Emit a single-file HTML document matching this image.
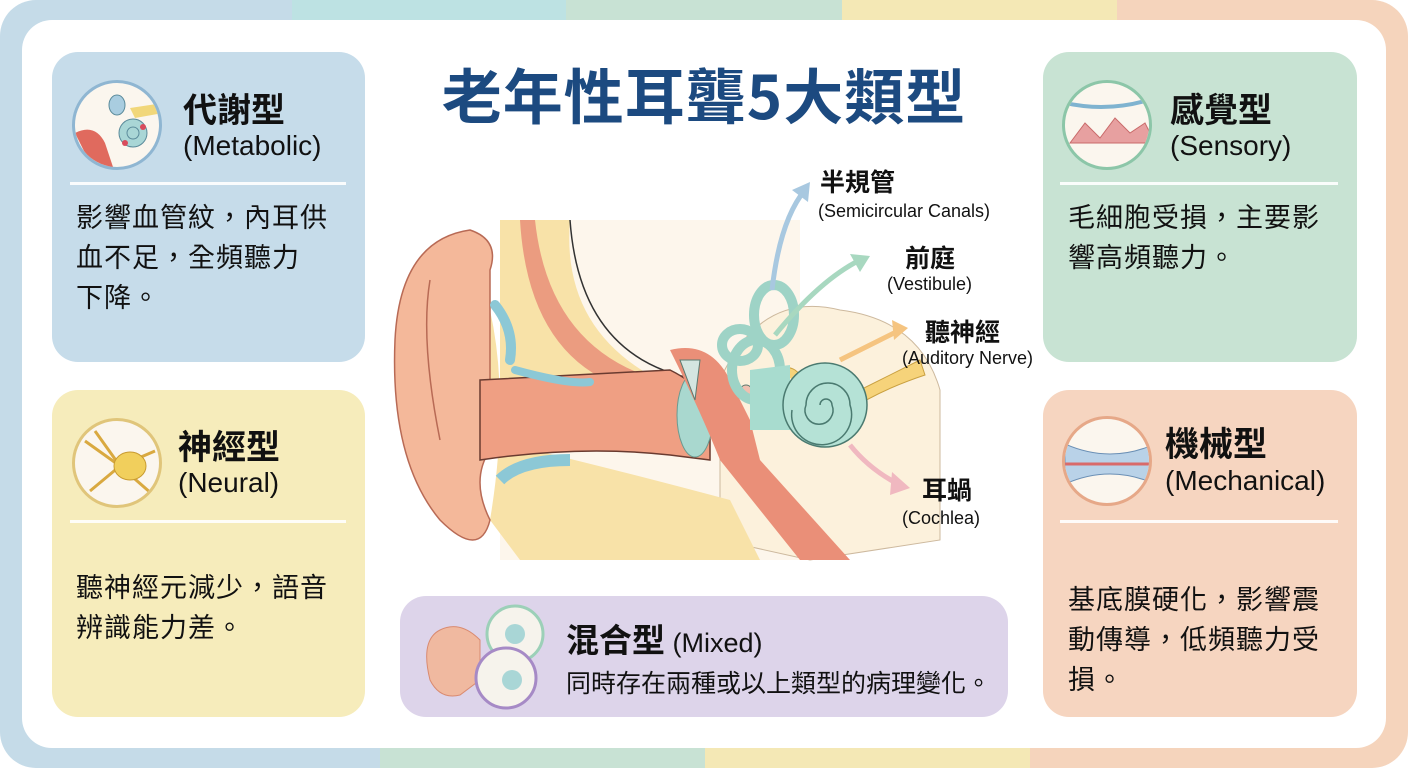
<!DOCTYPE html>
<html><head><meta charset="utf-8"><style>
*{margin:0;padding:0;box-sizing:border-box}
body{width:1408px;height:768px;overflow:hidden;position:relative;background:#fff;font-family:"Liberation Sans","Noto Sans CJK TC",sans-serif;color:#111}
.a{position:absolute}
.card{position:absolute;border-radius:26px}
.ic{position:absolute;width:90px;height:90px;border-radius:50%;background:#fbf6ee;border:3px solid #d9c9b5;overflow:hidden}
.t{position:absolute;font-weight:bold;font-size:34px;font-family:"Noto Sans CJK TC",sans-serif;white-space:nowrap;line-height:44px}
.s{position:absolute;font-size:28px;white-space:nowrap}
.hr{position:absolute;height:3px;background:#fff;opacity:.9}
.b{position:absolute;font-size:27px;line-height:40px;font-family:"Noto Sans CJK TC",sans-serif;letter-spacing:1px;white-space:nowrap}
.lb{position:absolute;font-weight:bold;font-size:25px;font-family:"Noto Sans CJK TC",sans-serif;white-space:nowrap}
.ls{position:absolute;font-size:18px;white-space:nowrap}
</style></head><body>
<div class="a" style="left:0;top:0;width:292px;height:768px;background:#c5dbe8"></div>
<div class="a" style="left:292px;top:0;width:274px;height:40px;background:#bde2e3"></div>
<div class="a" style="left:566px;top:0;width:276px;height:40px;background:#c8e2d4"></div>
<div class="a" style="left:842px;top:0;width:275px;height:40px;background:#f4e8b5"></div>
<div class="a" style="left:1117px;top:0;width:291px;height:768px;background:#f5d4bc"></div>
<div class="a" style="left:292px;top:728px;width:88px;height:40px;background:#c5dbe8"></div>
<div class="a" style="left:380px;top:728px;width:325px;height:40px;background:#c8e2d4"></div>
<div class="a" style="left:705px;top:728px;width:325px;height:40px;background:#f4e8b5"></div>
<div class="a" style="left:1030px;top:728px;width:100px;height:40px;background:#f5d4bc"></div>
<div class="a" style="left:0;top:0;width:1408px;height:768px;border-radius:36px;box-shadow:0 0 0 40px #fff;"></div>
<div class="a" style="left:22px;top:20px;width:1364px;height:728px;background:#fff;border-radius:30px"></div>

<div class="a" style="left:380px;top:56px;width:648px;text-align:center;font-size:60px;font-weight:bold;color:#1c4a80;font-family:'Noto Sans CJK TC',sans-serif;letter-spacing:1px;line-height:76px">老年性耳聾5大類型</div>

<!-- left top -->
<div class="card" style="left:52px;top:52px;width:313px;height:310px;background:#c6dcea"></div>
<div class="ic" style="left:72px;top:80px;border-color:#8fb6d2"><svg width="90" height="90"><path d="M0 50 Q20 40 30 60 L40 90 L20 90 Z" fill="#e06a5e"/><circle cx="58" cy="50" r="14" fill="#a9d6d6" stroke="#5a8a9a"/><circle cx="58" cy="50" r="6" fill="none" stroke="#5a8a9a"/><ellipse cx="42" cy="22" rx="8" ry="10" fill="#a9cde0" stroke="#5a8a9a"/><circle cx="50" cy="60" r="3" fill="#d94c5c"/><circle cx="68" cy="44" r="3" fill="#d94c5c"/><path d="M55 25 L88 20 L88 30 L60 35Z" fill="#f1d77a"/></svg></div>
<div class="t" style="left:183px;top:86px">代謝型</div>
<div class="s" style="left:183px;top:130px">(Metabolic)</div>
<div class="hr" style="left:70px;top:182px;width:276px"></div>
<div class="b" style="left:76px;top:196px">影響血管紋，內耳供<br>血不足，全頻聽力<br>下降。</div>

<!-- left bottom -->
<div class="card" style="left:52px;top:390px;width:313px;height:327px;background:#f6ecbb"></div>
<div class="ic" style="left:72px;top:418px;border-color:#e0c57a"><svg width="90" height="90"><path d="M10 20 L45 45 M20 10 L45 45 M15 70 L45 45 M45 45 L85 80 M45 45 L80 30" stroke="#d9a940" stroke-width="3" fill="none"/><ellipse cx="55" cy="45" rx="16" ry="14" fill="#f1cf5c" stroke="#c89a30"/></svg></div>
<div class="t" style="left:178px;top:423px">神經型</div>
<div class="s" style="left:178px;top:467px">(Neural)</div>
<div class="hr" style="left:70px;top:520px;width:276px"></div>
<div class="b" style="left:76px;top:566px">聽神經元減少，語音<br>辨識能力差。</div>

<!-- right top -->
<div class="card" style="left:1043px;top:52px;width:314px;height:310px;background:#c8e3d3"></div>
<div class="ic" style="left:1062px;top:80px;border-color:#8cc6a8"><svg width="90" height="90"><path d="M0 20 Q45 30 90 15" stroke="#7fb3d0" stroke-width="4" fill="none"/><path d="M5 60 L20 40 L35 55 L50 35 L65 50 L80 40 L90 60 Z" fill="#e7a0a0" stroke="#c96a6a"/></svg></div>
<div class="t" style="left:1170px;top:86px">感覺型</div>
<div class="s" style="left:1170px;top:130px">(Sensory)</div>
<div class="hr" style="left:1060px;top:182px;width:278px"></div>
<div class="b" style="left:1068px;top:196px">毛細胞受損，主要影<br>響高頻聽力。</div>

<!-- right bottom -->
<div class="card" style="left:1043px;top:390px;width:314px;height:327px;background:#f6d5c0"></div>
<div class="ic" style="left:1062px;top:416px;border-color:#e6a888"><svg width="90" height="90"><path d="M0 25 Q45 45 90 25 L90 65 Q45 45 0 65Z" fill="#b9d2e8" stroke="#6a8fb5"/><path d="M0 45 L90 45" stroke="#d96a6a" stroke-width="3"/></svg></div>
<div class="t" style="left:1165px;top:420px">機械型</div>
<div class="s" style="left:1165px;top:465px">(Mechanical)</div>
<div class="hr" style="left:1060px;top:520px;width:278px"></div>
<div class="b" style="left:1068px;top:578px">基底膜硬化，影響震<br>動傳導，低頻聽力受<br>損。</div>

<!-- mixed -->
<div class="card" style="left:400px;top:596px;width:608px;height:121px;background:#ddd4ea"></div>
<svg class="a" style="left:420px;top:600px" width="140" height="115"><path d="M20 30 Q0 40 10 80 Q20 100 40 95 L60 80 L60 40 Q40 20 20 30Z" fill="#f0b9a0" stroke="#d98a70"/><circle cx="95" cy="34" r="28" fill="#f6f3ec" stroke="#9cd0b8" stroke-width="3"/><circle cx="95" cy="34" r="10" fill="#a9d6d6"/><circle cx="86" cy="78" r="30" fill="#f6f3ec" stroke="#a68ac6" stroke-width="3"/><circle cx="92" cy="80" r="10" fill="#a9d6d6"/></svg>
<div class="a" style="left:566px;top:614px;font-size:33px;font-weight:bold;font-family:'Noto Sans CJK TC',sans-serif;white-space:nowrap">混合型 <span style="font-weight:normal;font-size:27px;font-family:'Liberation Sans',sans-serif">(Mixed)</span></div>
<div class="a" style="left:566px;top:664px;font-size:25px;font-family:'Noto Sans CJK TC',sans-serif;white-space:nowrap">同時存在兩種或以上類型的病理變化。</div>

<!-- ear -->
<svg class="a" style="left:380px;top:160px" width="680" height="420" viewBox="0 0 680 420">
<path d="M120 60 L120 400 L420 400 L420 60Z" fill="#fbf0e0" opacity=".6"/>
<path d="M340 220 Q380 130 460 150 Q540 160 560 230 L560 380 L430 400 L340 380Z" fill="#fcf1dc" stroke="#cdb99e"/>
<path d="M120 60 L120 260 L300 250 L300 230 Q180 180 190 60Z" fill="#f8e2a8"/>
<path d="M155 60 Q170 200 300 225 L300 238 Q150 230 140 60Z" fill="#eb9c80"/>
<path d="M190 60 Q200 200 320 220" stroke="#333" fill="none" stroke-width="1.5"/>
<path d="M110 150 Q130 240 110 360 L140 400 L380 400 L350 340 Q200 300 110 280Z" fill="#f8e2a8"/>
<path d="M90 70 Q20 80 15 180 Q10 300 60 360 Q100 400 110 360 Q90 320 110 290 L110 110 Q120 80 90 70Z" fill="#f4b89a" stroke="#b86a55" stroke-width="1.5"/>
<path d="M50 120 Q40 180 60 280" stroke="#b86a55" fill="none" stroke-width="1.5"/>
<path d="M100 220 L290 210 Q320 225 330 245 L330 300 L290 295 Q200 285 100 300 Z" fill="#ef9f83" stroke="#6a3b30" stroke-width="1.5"/>
<path d="M115 145 Q135 170 130 200" stroke="#8cc8d6" stroke-width="10" fill="none" stroke-linecap="round"/>
<path d="M135 210 Q190 225 210 222" stroke="#8cc8d6" stroke-width="8" fill="none" stroke-linecap="round"/>
<path d="M120 320 Q140 300 190 300" stroke="#8cc8d6" stroke-width="12" fill="none"/>
<ellipse cx="315" cy="255" rx="18" ry="42" fill="#a9d8cf" stroke="#6a9a90"/>
<path d="M290 190 Q330 180 350 220 L370 260 L380 300 L470 400 L420 400 L340 300 Q320 250 290 190Z" fill="#ea8f78"/>
<path d="M300 200 L320 200 L315 240 Z" fill="#d4e5e0" stroke="#5a7a70"/>
<circle cx="366" cy="231" r="6" fill="#f0c0b0" stroke="#5a7a70"/>
<path d="M395 210 Q420 200 425 230 L460 240 Q520 210 540 200 L545 215 Q500 230 470 250" fill="#f6d37a" stroke="#c9a040"/>
<ellipse cx="376" cy="210" rx="24" ry="30" fill="none" stroke="#9ed3c6" stroke-width="10"/>
<ellipse cx="394" cy="155" rx="20" ry="30" fill="none" stroke="#9ed3c6" stroke-width="10"/>
<ellipse cx="360" cy="185" rx="18" ry="16" fill="none" stroke="#9ed3c6" stroke-width="10"/>
<path d="M370 210 L410 205 L410 270 L370 270Z" fill="#a8dccf"/>
<circle cx="445" cy="245" r="42" fill="#b5e2d6" stroke="#4a7a70" stroke-width="1.5"/>
<path d="M445 245 m-5 0 a6 6 0 1 1 12 0 a14 14 0 1 1 -26 0 a22 22 0 1 1 44 0 a30 30 0 1 1 -58 5" fill="none" stroke="#4a7a70" stroke-width="1.5"/>
<path d="M392 130 Q400 60 425 30" stroke="#a8c8e0" stroke-width="5" fill="none"/><path d="M412 30 L430 22 L428 42Z" fill="#a8c8e0"/>
<path d="M395 175 Q440 120 480 100" stroke="#a8d8c0" stroke-width="5" fill="none"/><path d="M470 94 L490 96 L480 112Z" fill="#a8d8c0"/>
<path d="M460 200 Q500 180 520 170" stroke="#f5c480" stroke-width="5" fill="none"/><path d="M512 160 L528 168 L514 180Z" fill="#f5c480"/>
<path d="M470 285 Q490 310 520 325" stroke="#f0b8c0" stroke-width="5" fill="none"/><path d="M512 312 L530 328 L510 335Z" fill="#f0b8c0"/>
</svg>
<div class="lb" style="left:820px;top:163px">半規管</div>
<div class="ls" style="left:818px;top:201px">(Semicircular Canals)</div>
<div class="lb" style="left:905px;top:239px">前庭</div>
<div class="ls" style="left:887px;top:274px">(Vestibule)</div>
<div class="lb" style="left:925px;top:313px">聽神經</div>
<div class="ls" style="left:902px;top:348px">(Auditory Nerve)</div>
<div class="lb" style="left:922px;top:471px">耳蝸</div>
<div class="ls" style="left:902px;top:508px">(Cochlea)</div>
</body></html>
